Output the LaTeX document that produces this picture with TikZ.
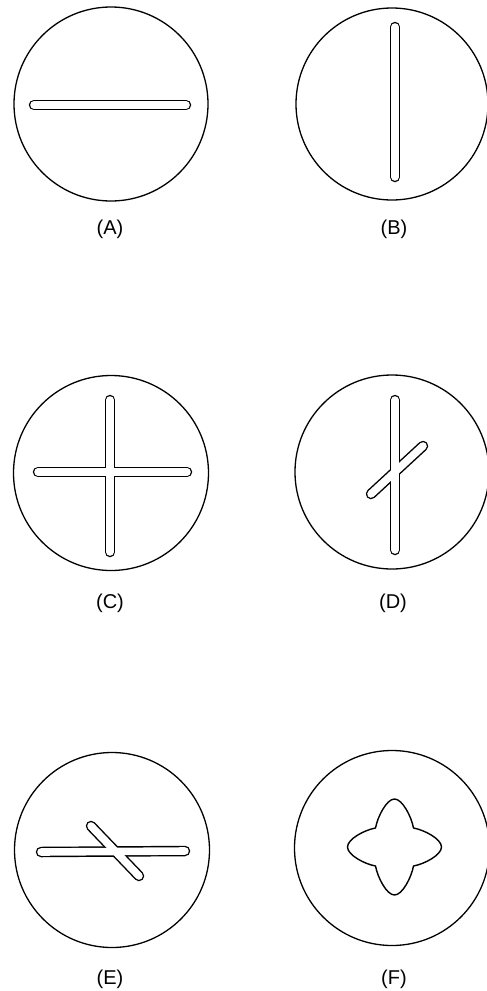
\documentclass[tikz,border=0pt]{standalone}
\usepackage{fontspec}
\setmainfont{Liberation Sans}
\begin{document}
\begin{tikzpicture}[x=1pt,y=-1pt,
  rim/.style={line width=1.3pt},
  slotout/.style={line width=10.5pt, line cap=round, black},
  slotin/.style={line width=7.6pt, line cap=round, white},
  lab/.style={font=\fontsize{20}{24}\selectfont, inner sep=0pt},
  starline/.style={line width=1.4pt, line join=round}
]
\fill[white] (0,0) rectangle (487,991);
\useasboundingbox (0,0) rectangle (487,991);

% (A)
\draw[rim] (111,104) circle[radius=97];
\draw[slotout] (34,105) -- (186,105);
\draw[slotin] (34,105) -- (186,105);
\node[lab] (la) at (110,229) {(A)};

% (B)
\draw[rim] (392,104) circle[radius=96];
\draw[slotout] (395,27) -- (395,177);
\draw[slotin] (395,27) -- (395,177);
\node[lab] (lb) at (394,229) {(B)};

% (C)
\draw[rim] (111,473) circle[radius=97.5];
\draw[slotout] (110,400) -- (110,552);
\draw[slotout] (38,472) -- (187,472);
\draw[slotin] (110,400) -- (110,552);
\draw[slotin] (38,472) -- (187,472);
\node[lab] (lc) at (110,603) {(C)};

% (D)
\draw[rim] (392,472) circle[radius=97];
\draw[slotout] (395,400) -- (395,550);
\draw[slotout] (371,494) -- (423,446);
\draw[slotin] (395,400) -- (395,550);
\draw[slotin] (371,494) -- (423,446);
\node[lab] (ld) at (393,603) {(D)};

% (E)
\draw[rim] (112,850) circle[radius=97.5];
\draw[slotout] (41,852) -- (185,851);
\draw[slotout] (91,826) -- (139,876);
\draw[slotin] (41,852) -- (185,851);
\draw[slotin] (91,826) -- (139,876);
\node[lab] (le) at (110,979) {(E)};

% (F)
\draw[rim] (392,848) circle[radius=97.5];
\begin{scope}[shift={(394.5,847)}]
\draw[starline]
  (-19,-19) .. controls (-17,-30) and (-8,-48) .. (0,-48)
  .. controls (8,-48) and (17,-30) .. (19,-19)
  .. controls (30,-17) and (47,-8) .. (47,0)
  .. controls (47,8) and (30,17) .. (19,19)
  .. controls (17,30) and (8,48) .. (0,48)
  .. controls (-8,48) and (-17,30) .. (-19,19)
  .. controls (-30,17) and (-47,8) .. (-47,0)
  .. controls (-47,-8) and (-30,-17) .. cycle;
\end{scope}
\node[lab] (lf) at (394,979) {(F)};
\end{tikzpicture}
\end{document}
